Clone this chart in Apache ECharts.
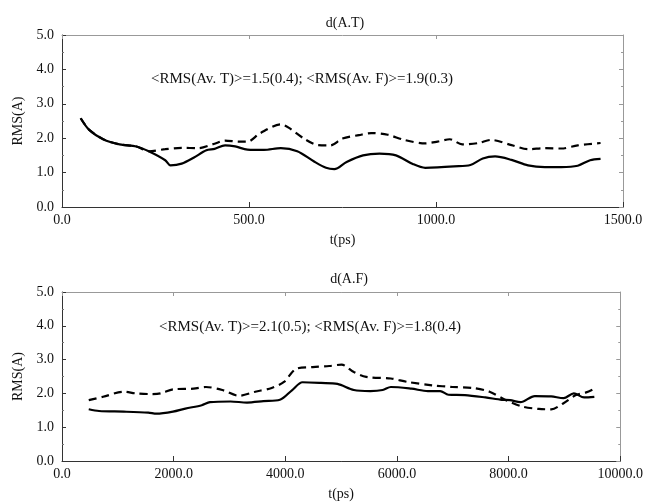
<!DOCTYPE html>
<html>
<head>
<meta charset="utf-8">
<script src="https://cdn.jsdelivr.net/npm/echarts@6/dist/echarts.min.js"></script>
<style>
  html, body { margin: 0; padding: 0; background: #fff; }
  #chart { width: 646px; height: 502px; }
</style>
</head>
<body>
<div id="chart"></div>
<script>
// top panel d(A.T), x in ps
var topSolid = [
  [50, 2.58], [72, 2.25], [110, 1.97], [154, 1.82], [199, 1.76], [232, 1.62],
  [276, 1.36], [290, 1.21], [320, 1.26], [353, 1.44], [386, 1.65], [408, 1.69],
  [436, 1.79], [463, 1.76], [496, 1.67], [540, 1.66], [585, 1.71], [629, 1.62],
  [673, 1.33], [706, 1.14], [728, 1.10], [761, 1.31], [805, 1.50], [849, 1.55],
  [893, 1.50], [938, 1.25], [971, 1.14], [1004, 1.15], [1048, 1.18], [1092, 1.22],
  [1125, 1.41], [1158, 1.47], [1202, 1.37], [1246, 1.21], [1291, 1.16], [1335, 1.16],
  [1379, 1.20], [1412, 1.36], [1440, 1.40]
];
var topDashed = [
  [50, 2.58], [72, 2.25], [110, 1.97], [154, 1.82], [199, 1.76], [232, 1.62],
  [276, 1.68], [320, 1.72], [364, 1.71], [408, 1.84], [436, 1.93], [474, 1.90],
  [496, 1.90], [529, 2.14], [585, 2.40], [607, 2.30], [651, 1.96], [684, 1.80],
  [717, 1.79], [750, 1.99], [794, 2.09], [827, 2.15], [871, 2.10], [915, 1.95],
  [971, 1.85], [1004, 1.90], [1037, 1.97], [1070, 1.82], [1114, 1.86], [1147, 1.95],
  [1202, 1.80], [1246, 1.68], [1291, 1.71], [1335, 1.70], [1379, 1.79], [1440, 1.86]
];
// bottom panel d(A.F)
var botSolid = [
  [479, 1.53], [663, 1.48], [1105, 1.46], [1546, 1.43], [1694, 1.40], [1988, 1.46],
  [2209, 1.55], [2504, 1.65], [2651, 1.74], [3019, 1.76], [3314, 1.73], [3608, 1.77],
  [3903, 1.81], [4124, 2.10], [4308, 2.33], [4639, 2.31], [4934, 2.28], [5228, 2.10],
  [5523, 2.07], [5744, 2.10], [5891, 2.19], [6259, 2.14], [6554, 2.07], [6775, 2.07],
  [6922, 1.96], [7217, 1.95], [7585, 1.88], [7880, 1.81], [8027, 1.80], [8211, 1.74],
  [8469, 1.92], [8763, 1.91], [8984, 1.86], [9168, 2.00], [9352, 1.88], [9536, 1.90]
];
var botDashed = [
  [479, 1.80], [736, 1.90], [1105, 2.05], [1325, 2.00], [1620, 1.98], [1767, 2.00],
  [1988, 2.12], [2356, 2.14], [2577, 2.19], [2872, 2.10], [3166, 1.93], [3461, 2.05],
  [3756, 2.16], [3977, 2.34], [4197, 2.73], [4492, 2.78], [4787, 2.81], [5008, 2.85],
  [5228, 2.63], [5449, 2.49], [5891, 2.44], [6186, 2.34], [6628, 2.24], [6996, 2.19],
  [7364, 2.16], [7659, 2.05], [7953, 1.80], [8248, 1.61], [8542, 1.54], [8763, 1.53],
  [8984, 1.71], [9205, 1.95], [9389, 2.03], [9536, 2.14]
];
var panelTitles = ['d(A.T)', 'd(A.F)'];
var notes = ['<RMS(Av. T)>=1.5(0.4); <RMS(Av. F)>=1.9(0.3)',
             '<RMS(Av. T)>=2.1(0.5); <RMS(Av. F)>=1.8(0.4)'];
var xMax = [1500, 10000];
var xStep = [500, 2000];

var font = 'Liberation Serif, Times New Roman, serif';
var axisCol = '#333';

function xAxisFor(i) {
  return [{
    type: 'value', gridIndex: i, min: 0, max: xMax[i], interval: xStep[i],
    name: 't(ps)', nameLocation: 'middle', nameGap: 26,
    nameTextStyle: { fontFamily: font, fontSize: 14, color: '#111' },
    axisLine: { show: true, onZero: false, lineStyle: { color: axisCol, width: 1 } },
    axisTick: { inside: true, length: 5, lineStyle: { color: axisCol } },
    splitLine: { show: false },
    axisLabel: { fontFamily: font, fontSize: 14, color: '#111', margin: 6,
      formatter: function (v) { return v.toFixed(1); } }
  }, {
    type: 'value', gridIndex: i, min: 0, max: xMax[i], interval: xStep[i], position: 'top',
    axisLine: { show: true, onZero: false, lineStyle: { color: '#999', width: 1 } },
    axisTick: { inside: true, length: 4, lineStyle: { color: '#999' } },
    axisLabel: { show: false }, splitLine: { show: false }
  }];
}
function yAxisFor(i) {
  return [{
    type: 'value', gridIndex: i, min: 0, max: 5, interval: 1,
    name: 'RMS(A)', nameLocation: 'middle', nameGap: 35, nameRotate: 90,
    nameTextStyle: { fontFamily: font, fontSize: 14, color: '#111' },
    axisLine: { show: true, onZero: false, lineStyle: { color: axisCol, width: 1 } },
    axisTick: { inside: true, length: 4, lineStyle: { color: axisCol } },
    minorTick: { show: true, splitNumber: 2, length: 2, lineStyle: { color: '#777' } },
    splitLine: { show: false },
    axisLabel: { fontFamily: font, fontSize: 14, color: '#111', margin: 8,
      formatter: function (v) { return v.toFixed(1); } }
  }, {
    type: 'value', gridIndex: i, min: 0, max: 5, interval: 1, position: 'right',
    axisLine: { show: true, onZero: false, lineStyle: { color: '#999', width: 1 } },
    axisTick: { inside: true, length: 4, lineStyle: { color: '#999' } },
    minorTick: { show: true, splitNumber: 2, length: 2, lineStyle: { color: '#999' } },
    axisLabel: { show: false }, splitLine: { show: false }
  }];
}
function line(i, data, dashed) {
  return {
    type: 'line', xAxisIndex: i * 2, yAxisIndex: i * 2, data: data,
    showSymbol: false, smooth: 0.3, silent: true,
    lineStyle: { color: '#000', width: 2.2, type: dashed ? [8, 5] : 'solid' }
  };
}

var chart = echarts.init(document.getElementById('chart'));
chart.setOption({
  backgroundColor: '#fff',
  animation: false,
  title: [
    { text: panelTitles[0], left: 340, top: 11, textAlign: 'center',
      textStyle: { fontFamily: font, fontSize: 14, fontWeight: 'normal', color: '#111' } },
    { text: panelTitles[1], left: 344, top: 267, textAlign: 'center',
      textStyle: { fontFamily: font, fontSize: 14, fontWeight: 'normal', color: '#111' } }
  ],
  grid: [
    { left: 62, top: 35, width: 561, height: 172 },
    { left: 62, top: 292, width: 561, height: 171 }
  ],
  xAxis: xAxisFor(0).concat(xAxisFor(1)),
  yAxis: yAxisFor(0).concat(yAxisFor(1)),
  series: [
    line(0, topSolid, false), line(0, topDashed, true),
    line(1, botSolid, false), line(1, botDashed, true)
  ],
  graphic: [
    { type: 'text', left: 151, top: 72,
      style: { text: notes[0], font: '15px ' + font, fill: '#111' } },
    { type: 'text', left: 159, top: 320,
      style: { text: notes[1], font: '15px ' + font, fill: '#111' } }
  ]
});
</script>
</body>
</html>
